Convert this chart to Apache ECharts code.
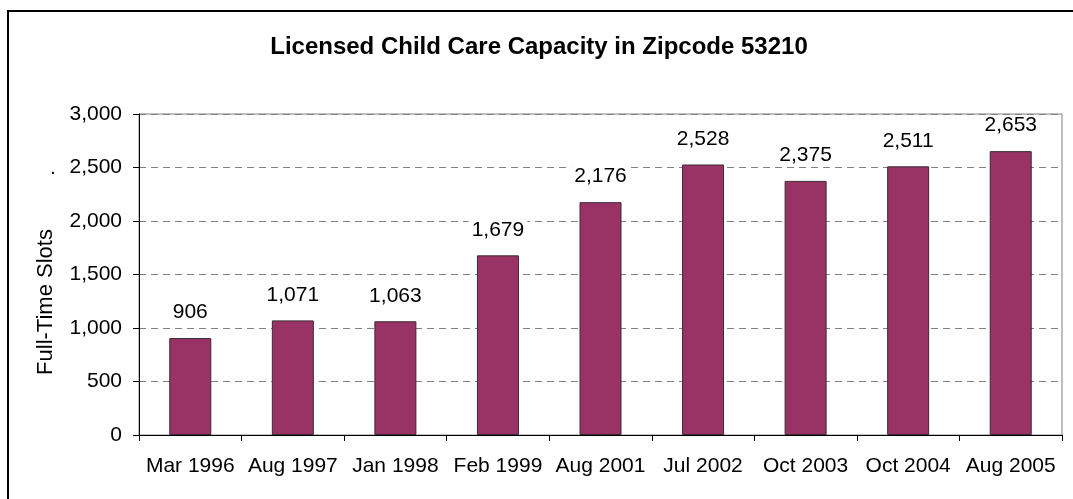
<!DOCTYPE html>
<html>
<head>
<meta charset="utf-8">
<script src="https://cdn.jsdelivr.net/npm/echarts@6/dist/echarts.min.js"></script>
<style>
html,body{margin:0;padding:0;background:#fff;}
#chart{width:1073px;height:499px;}
</style>
</head>
<body>
<div id="chart"></div>
<script>
var categories = ['Mar 1996','Aug 1997','Jan 1998','Feb 1999','Aug 2001','Jul 2002','Oct 2003','Oct 2004','Aug 2005'];
var capacity = [906, 1071, 1063, 1679, 2176, 2528, 2375, 2511, 2653];
var yTicks = {min: 0, max: 3000, interval: 500};
var titleText = 'Licensed Child Care Capacity in Zipcode 53210';
var yAxisTitle = 'Full-Time Slots';

var FONT = '"Liberation Sans", Arial, sans-serif';
var chart = echarts.init(document.getElementById('chart'));
chart.setOption({
  animation: false,
  backgroundColor: '#fff',
  textStyle: {fontFamily: FONT},
  title: {
    text: titleText,
    left: 534, top: 30, textAlign: 'center',
    textStyle: {fontFamily: FONT, fontWeight: 'bold', fontSize: 24, color: '#000'}
  },
  grid: {
    left: 139, right: 11, top: 114, bottom: 64,
    show: true, borderColor: '#808080', borderWidth: 1, backgroundColor: 'transparent'
  },
  xAxis: {
    type: 'category',
    data: categories,
    axisLine: {show: true, lineStyle: {color: '#000', width: 1}},
    axisTick: {show: true, alignWithLabel: false, length: 6, inside: false, lineStyle: {color: '#000'}},
    axisLabel: {color: '#000', fontSize: 21, fontFamily: FONT, margin: 21, interval: 0},
    splitLine: {show: false}
  },
  yAxis: {
    type: 'value',
    min: yTicks.min, max: yTicks.max, interval: yTicks.interval,
    axisLine: {show: true, lineStyle: {color: '#000', width: 1}},
    axisTick: {show: true, length: 6, lineStyle: {color: '#000'}},
    axisLabel: {
      color: '#000', fontSize: 21, fontFamily: FONT, margin: 17,
      formatter: function (v) { return v.toLocaleString('en-US'); }
    },
    splitLine: {show: true, lineStyle: {color: '#808080', type: [7, 5], width: 1}}
  },
  series: [{
    type: 'bar',
    data: capacity,
    barWidth: 42,
    itemStyle: {color: '#993366', borderColor: '#3a2a30', borderWidth: 1},
    label: {
      show: true, position: 'top', distance: 15,
      color: '#000', fontSize: 21, fontFamily: FONT,
      backgroundColor: '#fff', padding: [0, 3],
      formatter: function (p) { return p.value.toLocaleString('en-US'); }
    },
    z: 3
  }],
  graphic: [
    {
      type: 'rect', silent: true, z: 100,
      shape: {x: 8, y: 11, width: 1200, height: 700},
      style: {fill: 'none', stroke: '#000', lineWidth: 2}
    },
    {
      type: 'text', silent: true, z: 100,
      x: 46, y: 302, rotation: Math.PI / 2,
      style: {text: yAxisTitle, fontSize: 22, fontFamily: FONT, fill: '#000', align: 'center', verticalAlign: 'middle'}
    },
    {
      type: 'text', silent: true, z: 100,
      x: 53, y: 168,
      style: {text: '.', fontSize: 21, fontFamily: FONT, fill: '#000', align: 'center', verticalAlign: 'middle'}
    }
  ]
});
</script>
</body>
</html>
